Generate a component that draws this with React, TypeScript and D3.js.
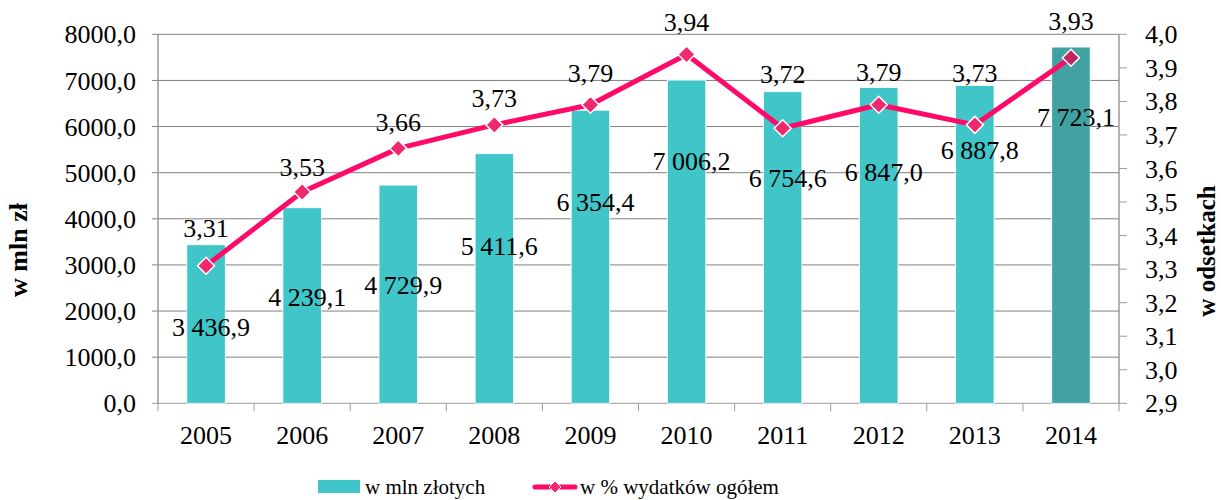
import React from "react";
import * as d3 from "d3";

const years = ["2005", "2006", "2007", "2008", "2009", "2010", "2011", "2012", "2013", "2014"];
const valuesMln = [3436.9, 4239.1, 4729.9, 5411.6, 6354.4, 7006.2, 6754.6, 6847.0, 6887.8, 7723.1];
const valuesPct = [3.31, 3.53, 3.66, 3.73, 3.79, 3.94, 3.72, 3.79, 3.73, 3.93];
// label anchor positions expressed in data units (manually placed labels in the source chart)
const barLabelAnchor = [1661, 2312, 2565, 3411, 4376, 5254, 4886, 5022, 5493, 6215];
const pctLabelAnchor = [3.4235, 3.605, 3.739, 3.809, 3.884, 4.037, 3.882, 3.8885, 3.884, 4.0405];
const leftTicks = [0, 1000, 2000, 3000, 4000, 5000, 6000, 7000, 8000];
const rightTicks = [2.9, 3.0, 3.1, 3.2, 3.3, 3.4, 3.5, 3.6, 3.7, 3.8, 3.9, 4.0];
const legendLabels = ["w mln złotych", "w % wydatków ogółem"];
const axisTitles = ["w mln zł", "w odsetkach"];

const W = 1221;
const H = 500;
const left = 158;
const right = 1119;
const top = 34.3;
const bottom = 403.3;

const BAR = "#40C5C8";
const BAR_LAST = "#42A1A1";
const LINE = "#FF0A68";
const MARK = "#F0286E";
const MARK_LAST = "#C02560";
const GRID = "#808080";
const AXIS = "#9a9a9a";
const FONT = "\"Times New Roman\", \"Liberation Serif\", Tinos, serif";

const loc = d3.formatLocale({ decimal: ",", thousands: " ", grouping: [3], currency: ["", ""] });
const fmtBar = loc.format(",.1f");
const fmtLeft = loc.format(".1f");
const fmtRight = loc.format(".1f");
const fmtPct = loc.format(".2f");

export default function App() {
  const x = d3.scaleBand<string>().domain(years).range([left, right]).paddingInner(0).paddingOuter(0);
  const bw = x.bandwidth();
  const barW = bw * 0.4;
  const yL = d3.scaleLinear().domain([0, 8000]).range([bottom, top]);
  const yR = d3.scaleLinear().domain([2.9, 4.0]).range([bottom, top]);
  const cx = (i: number) => (x(years[i]) as number) + bw / 2;

  const line = d3
    .line<number>()
    .x((_, i) => cx(i))
    .y((d) => yR(d));

  const diamond = (r: number) => `M0,${-r}L${r},0L0,${r}L${-r},0Z`;
  const ts: React.CSSProperties = { fontFamily: FONT };

  return (
    <svg width={W} height={H} style={{ position: "absolute", left: 0, top: 0, background: "#fff", fontFamily: FONT }}>
      {/* gridlines */}
      {leftTicks.map((t) => (
        <line key={"g" + t} x1={left - 6} x2={right} y1={yL(t)} y2={yL(t)} stroke={t === 0 ? AXIS : GRID} strokeWidth={1} />
      ))}
      {/* left axis */}
      <line x1={left} x2={left} y1={top} y2={bottom} stroke={AXIS} strokeWidth={1.5} />
      {leftTicks.map((t) => (
        <text key={"lt" + t} style={ts} x={136} y={yL(t)} dy="0.35em" textAnchor="end" fontSize={26} fill="#000">
          {fmtLeft(t)}
        </text>
      ))}
      {/* right axis */}
      <line x1={right} x2={right} y1={top} y2={bottom} stroke={AXIS} strokeWidth={1.5} />
      {rightTicks.map((t) => (
        <g key={"rt" + t}>
          <line x1={right} x2={right + 8} y1={yR(t)} y2={yR(t)} stroke={AXIS} strokeWidth={1} />
          <text style={ts} x={1145} y={yR(t)} dy="0.35em" textAnchor="start" fontSize={26} fill="#000">
            {fmtRight(t)}
          </text>
        </g>
      ))}
      {/* bottom axis ticks */}
      {years.map((yv) => (
        <line key={"xt" + yv} x1={x(yv) as number} x2={x(yv) as number} y1={bottom} y2={bottom + 8} stroke={AXIS} strokeWidth={1} />
      ))}
      <line x1={right} x2={right} y1={bottom} y2={bottom + 8} stroke={AXIS} strokeWidth={1} />
      {years.map((yv, i) => (
        <text key={"xl" + yv} style={ts} x={cx(i)} y={435} dy="0.35em" textAnchor="middle" fontSize={26} fill="#000">
          {yv}
        </text>
      ))}
      {/* bars */}
      {valuesMln.map((v, i) => (
        <rect
          key={"b" + i}
          x={cx(i) - barW / 2}
          y={yL(v)}
          width={barW}
          height={yL(0) - yL(v)}
          fill={i === valuesMln.length - 1 ? BAR_LAST : BAR}
          stroke="#fff"
          strokeWidth={0.8}
        />
      ))}
      {/* bar labels */}
      {valuesMln.map((v, i) => (
        <text key={"bl" + i} style={ts} x={cx(i) + 5} y={yL(barLabelAnchor[i])} dy="0.35em" textAnchor="middle" fontSize={26} fill="#000">
          {fmtBar(v)}
        </text>
      ))}
      {/* line */}
      <path d={line(valuesPct) || ""} fill="none" stroke={LINE} strokeWidth={5} strokeLinejoin="round" />
      {valuesPct.map((v, i) => (
        <path
          key={"m" + i}
          d={diamond(8.5)}
          transform={`translate(${cx(i)},${yR(v)})`}
          fill={i === valuesPct.length - 1 ? MARK_LAST : MARK}
          stroke="#fff"
          strokeWidth={1.5}
        />
      ))}
      {valuesPct.map((v, i) => (
        <text key={"pl" + i} style={ts} x={cx(i)} y={yR(pctLabelAnchor[i])} dy="0.35em" textAnchor="middle" fontSize={26} fill="#000">
          {fmtPct(v)}
        </text>
      ))}
      {/* axis titles */}
      <text style={ts} transform={`translate(27,250) rotate(-90)`} textAnchor="middle" fontSize={26} fontWeight="bold" fill="#000">
        {axisTitles[0]}
      </text>
      <text style={ts} transform={`translate(1215,251) rotate(-90)`} textAnchor="middle" fontSize={25} fontWeight="bold" fill="#000">
        {axisTitles[1]}
      </text>
      {/* legend */}
      <rect x={318} y={480} width={42} height={13} fill={BAR} />
      <text style={ts} x={365} y={494} fontSize={21} fill="#000">
        {legendLabels[0]}
      </text>
      <line x1={535} x2={575} y1={487} y2={487} stroke={LINE} strokeWidth={5} strokeLinecap="round" />
      <path d={diamond(6)} transform="translate(555,487)" fill={MARK} stroke="#fff" strokeWidth={1} />
      <text style={ts} x={580} y={494} fontSize={21} fill="#000">
        {legendLabels[1]}
      </text>
    </svg>
  );
}
